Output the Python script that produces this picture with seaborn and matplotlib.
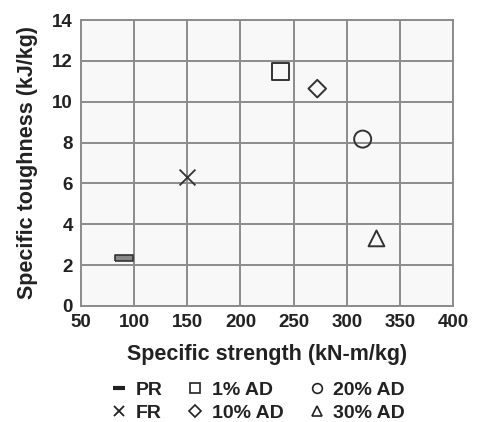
import numpy as np
import matplotlib.pyplot as plt
import seaborn as sns
import pandas as pd
from matplotlib.lines import Line2D

# Data
labels = ["PR", "FR", "1% AD", "10% AD", "20% AD", "30% AD"]
strength = [90.7, 149.7, 238.0, 272.3, 315.0, 328.0]
toughness = [2.33, 6.33, 11.47, 10.64, 8.17, 3.31]

df = pd.DataFrame({"strength": strength, "toughness": toughness, "label": labels})

dash = [(-1, -0.28), (1, -0.28), (1, 0.28), (-1, 0.28), (-1, -0.28)]
markers = {"PR": dash, "FR": "x", "1% AD": "s", "10% AD": "D",
           "20% AD": "o", "30% AD": "^"}
sizes = {"PR": 180, "FR": 130, "1% AD": 150, "10% AD": 80,
         "20% AD": 150, "30% AD": 130}

sns.set_style("white")
plt.rcParams['font.family'] = ['Liberation Sans', 'DejaVu Sans']
plt.rcParams['font.weight'] = 'bold'

fig = plt.figure(figsize=(4.78, 4.22), dpi=100)
ax = fig.add_axes([0.1695, 0.2749, 0.7782, 0.6777])
ax.set_facecolor("#f8f8f8")

txt = "#222222"
for lab in labels:
    sub = df[df["label"] == lab]
    if lab == "PR":
        sns.scatterplot(data=sub, x="strength", y="toughness", marker=markers[lab],
                        s=sizes[lab], facecolor="#888888", edgecolor="#333333",
                        linewidth=1.2, ax=ax, zorder=3)
    elif lab == "FR":
        sns.scatterplot(data=sub, x="strength", y="toughness", marker=markers[lab],
                        s=sizes[lab], color="#333333", linewidth=1.3, ax=ax, zorder=3)
    else:
        sns.scatterplot(data=sub, x="strength", y="toughness", marker=markers[lab],
                        s=sizes[lab], facecolor="none", edgecolor="#333333",
                        linewidth=1.4, ax=ax, zorder=3)

ax.set_xlim(50, 400)
ax.set_ylim(0, 14)
ax.set_xticks(np.arange(50, 401, 50))
ax.set_yticks(np.arange(0, 15, 2))
ax.grid(True, color="#8c8c8c", linewidth=1.4)
ax.set_axisbelow(True)
for sp in ax.spines.values():
    sp.set_color("#8c8c8c")
    sp.set_linewidth(1.4)
ax.tick_params(axis="both", length=0, pad=6, labelsize=13.5, labelcolor=txt)
for t in ax.get_xticklabels() + ax.get_yticklabels():
    t.set_fontweight("bold")

ax.set_xlabel("Specific strength (kN-m/kg)", fontsize=15.5, fontweight="bold",
              color=txt, labelpad=9)
ax.set_ylabel("Specific toughness (kJ/kg)", fontsize=15.5, fontweight="bold",
              color=txt, labelpad=10)

# Legend
handles = []
for lab in labels:
    if lab == "PR":
        h = Line2D([], [], linestyle="none", marker="_", markersize=9,
                   markeredgewidth=3, color="#222222")
    elif lab == "FR":
        h = Line2D([], [], linestyle="none", marker="x", markersize=6.5,
                   markeredgewidth=1.3, color="#222222")
    else:
        ms = 6 if lab == "10% AD" else 7
        h = Line2D([], [], linestyle="none", marker=markers[lab], markersize=ms,
                   markerfacecolor="none", markeredgecolor="#222222",
                   markeredgewidth=1.2)
    handles.append(h)

fig.legend(handles, labels, loc="upper center", bbox_to_anchor=(0.54, 0.12),
           ncol=3, frameon=False, prop={"size": 14, "weight": "bold"},
           handletextpad=0.45, columnspacing=1.3, labelspacing=0.3,
           handlelength=0.8, labelcolor=txt, borderpad=0.0)

fig.savefig("out.png", dpi=100)
